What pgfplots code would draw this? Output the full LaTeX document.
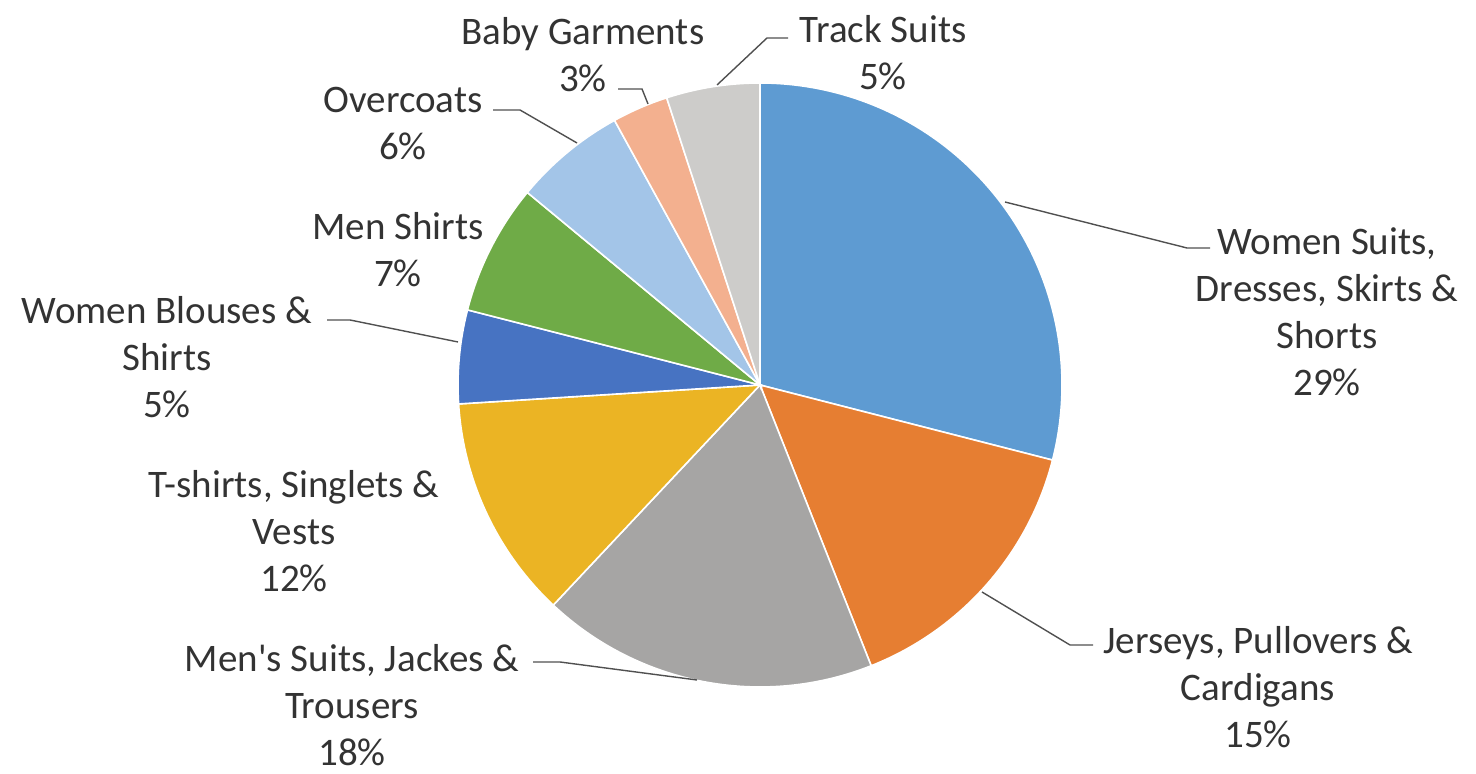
\documentclass[border=0pt]{standalone}
\usepackage{fontspec}
\setmainfont{Carlito}
\usepackage{pgfplots}
\pgfplotsset{compat=1.18}
\definecolor{cA}{HTML}{5E9BD2}
\definecolor{cB}{HTML}{E67E32}
\definecolor{cC}{HTML}{A6A5A4}
\definecolor{cD}{HTML}{EBB424}
\definecolor{cE}{HTML}{4773C2}
\definecolor{cF}{HTML}{6FAB47}
\definecolor{cG}{HTML}{A3C5E8}
\definecolor{cH}{HTML}{F3B08F}
\definecolor{cI}{HTML}{CDCCCA}
\definecolor{txt}{HTML}{333333}
\definecolor{lead}{HTML}{505050}
\tikzset{lbl/.style={align=center, text=txt, font=\fontsize{19.5}{23.5}\selectfont, inner sep=0pt}}
\begin{document}
\begin{tikzpicture}
\begin{axis}[
  width=738pt, height=387pt, scale only axis,
  xmin=0, xmax=1476, ymin=0, ymax=774,
  hide axis, clip=false,
]
% slices: cumulative percentages 0,29,44,62,74,79,86,92,95,100 (clockwise from top)
\fill[cA, draw=white, line width=0.8pt] (axis cs:760,389) -- ++({90-3.6*0}:151pt) arc[start angle={90-3.6*0}, end angle={90-3.6*29}, radius=151pt] -- cycle;
\fill[cB, draw=white, line width=0.8pt] (axis cs:760,389) -- ++({90-3.6*29}:151pt) arc[start angle={90-3.6*29}, end angle={90-3.6*44}, radius=151pt] -- cycle;
\fill[cC, draw=white, line width=0.8pt] (axis cs:760,389) -- ++({90-3.6*44}:151pt) arc[start angle={90-3.6*44}, end angle={90-3.6*62}, radius=151pt] -- cycle;
\fill[cD, draw=white, line width=0.8pt] (axis cs:760,389) -- ++({90-3.6*62}:151pt) arc[start angle={90-3.6*62}, end angle={90-3.6*74}, radius=151pt] -- cycle;
\fill[cE, draw=white, line width=0.8pt] (axis cs:760,389) -- ++({90-3.6*74}:151pt) arc[start angle={90-3.6*74}, end angle={90-3.6*79}, radius=151pt] -- cycle;
\fill[cF, draw=white, line width=0.8pt] (axis cs:760,389) -- ++({90-3.6*79}:151pt) arc[start angle={90-3.6*79}, end angle={90-3.6*86}, radius=151pt] -- cycle;
\fill[cG, draw=white, line width=0.8pt] (axis cs:760,389) -- ++({90-3.6*86}:151pt) arc[start angle={90-3.6*86}, end angle={90-3.6*92}, radius=151pt] -- cycle;
\fill[cH, draw=white, line width=0.8pt] (axis cs:760,389) -- ++({90-3.6*92}:151pt) arc[start angle={90-3.6*92}, end angle={90-3.6*95}, radius=151pt] -- cycle;
\fill[cI, draw=white, line width=0.8pt] (axis cs:760,389) -- ++({90-3.6*95}:151pt) arc[start angle={90-3.6*95}, end angle={90-3.6*100}, radius=151pt] -- cycle;
% leader lines
\draw[lead, line width=0.7pt] (axis cs:717,689) -- (axis cs:767,736) -- (axis cs:788,736);
\draw[lead, line width=0.7pt] (axis cs:618,685) -- (axis cs:642,685) -- (axis cs:648,670);
\draw[lead, line width=0.7pt] (axis cs:493,664) -- (axis cs:520,664) -- (axis cs:577,631);
\draw[lead, line width=0.7pt] (axis cs:327,454) -- (axis cs:350,454) -- (axis cs:458,432);
\draw[lead, line width=0.7pt] (axis cs:1005,572) -- (axis cs:1187,526) -- (axis cs:1210,526);
\draw[lead, line width=0.7pt] (axis cs:982,182) -- (axis cs:1070,129) -- (axis cs:1093,129);
\draw[lead, line width=0.7pt] (axis cs:533,112) -- (axis cs:560,112) -- (axis cs:697,94);
% labels
\node[lbl] at (axis cs:1327,462) {Women Suits,\\Dresses, Skirts \&\\Shorts\\29\%};
\node[lbl] at (axis cs:1258,87) {Jerseys, Pullovers \&\\Cardigans\\15\%};
\node[lbl] at (axis cs:352,69) {Men\textquotesingle s Suits, Jackes \&\\Trousers\\18\%};
\node[lbl] at (axis cs:294,243) {T-shirts, Singlets \&\\Vests\\12\%};
\node[lbl] at (axis cs:167,417) {Women Blouses \&\\Shirts\\5\%};
\node[lbl] at (axis cs:398,524) {Men Shirts\\7\%};
\node[lbl] at (axis cs:403,650) {Overcoats\\6\%};
\node[lbl] at (axis cs:583,719) {Baby Garments\\3\%};
\node[lbl] at (axis cs:883,721) {Track Suits\\5\%};
\end{axis}
\pgfresetboundingbox
\path (0,0) rectangle (738pt,387pt);
\end{tikzpicture}
\end{document}
